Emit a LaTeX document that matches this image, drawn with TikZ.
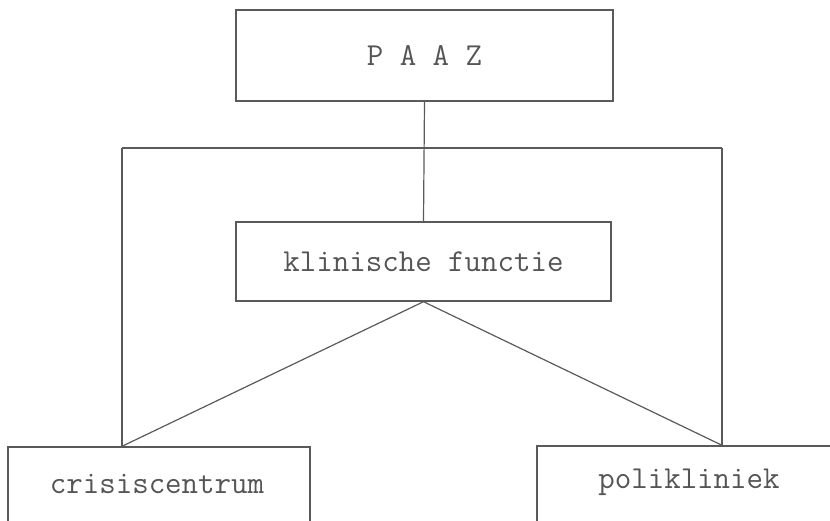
\documentclass[tikz,border=0pt]{standalone}
\usepackage{fontspec}
\definecolor{ink}{HTML}{5A5A5A}
\definecolor{txt}{HTML}{555555}
\begin{document}
\begin{tikzpicture}[x=1pt,y=-1pt,
  lbl/.style={font=\fontsize{32}{34}\selectfont\ttfamily,text=txt},
  box/.style={draw=ink,line width=1.4pt,rectangle,inner sep=0pt,lbl},
  link/.style={draw=ink,line width=1.2pt}]
\useasboundingbox (0,0) rectangle (830,521);
\clip (0,0) rectangle (830,521);
\node[box,minimum width=377pt,minimum height=91pt] (paaz) at (424.5,55.5) {P A A Z};
\node[box,minimum width=375pt,minimum height=79pt] (klin) at (423.5,261.5) {klinische functie};
\node[box,minimum width=302pt,minimum height=120pt] (crisis) at (159,507) {};
\node[lbl] (crisistxt) at (157,484) {crisiscentrum};
\node[box,minimum width=304pt,minimum height=120pt] (poli) at (689,506) {};
\node[lbl] (politxt) at (689,482) {polikliniek};
\coordinate (hl) at (122,148);
\coordinate (hr) at (722,148);
\draw[link] (paaz.south) -- (klin.north);
\draw[link] (hl) -- (hr);
\draw[link] (hl) -- (hl |- crisis.north);
\draw[link] (hr) -- (hr |- poli.north);
\draw[link] (klin.south) -- (hl |- crisis.north);
\draw[link] (klin.south) -- (hr |- poli.north);
\end{tikzpicture}
\end{document}
